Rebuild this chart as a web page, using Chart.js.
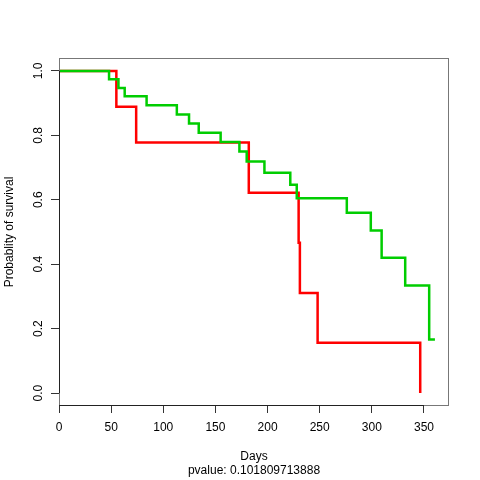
<!DOCTYPE html>
<html>
<head>
<meta charset="utf-8">
<script src="https://cdn.jsdelivr.net/npm/chart.js@4.4.1/dist/chart.umd.min.js"></script>
<style>
  html, body { margin: 0; padding: 0; background: #fff; }
  #wrap { width: 480px; height: 480px; }
</style>
</head>
<body>
<div id="wrap"><canvas id="km" width="480" height="480"></canvas></div>
<script>
// survival curves (days, probability)
const redDays = [0, 55, 74, 182, 229.8, 231, 248, 346.4];
const redSurv = [1, 0.889, 0.778, 0.622, 0.467, 0.311, 0.156, 0];
const greenDays = [0, 48, 57, 63, 84, 113, 124.7, 134, 155, 173, 180, 197, 221.8, 228, 276, 299, 309.4, 332, 355, 360.5];
const greenSurv = [1, 0.974, 0.947, 0.921, 0.893, 0.865, 0.837, 0.808, 0.779, 0.750, 0.719, 0.684, 0.647, 0.605, 0.560, 0.505, 0.420, 0.334, 0.166, 0.166];
const xTicks = [0, 50, 100, 150, 200, 250, 300, 350];
const yTicks = [0, 0.2, 0.4, 0.6, 0.8, 1.0];
const xTitle = 'Days';
const yTitle = 'Probablity of survival';
const subTitle = 'pvalue: 0.101809713888';

const FONT = '12px "Liberation Sans", Arial, sans-serif';

function toPoints(xs, ys) {
    return xs.map((x, i) => ({ x: x, y: ys[i] }));
}

// box, axis lines, rotated y labels and the bottom texts, R style
const rStyle = {
    id: 'rStyle',
    afterDraw(chart) {
        const ctx = chart.ctx;
        const a = chart.chartArea;
        const xs = chart.scales.x;
        const ys = chart.scales.y;
        ctx.save();
        ctx.strokeStyle = '#777';
        ctx.lineWidth = 1;
        ctx.strokeRect(a.left + 0.5, a.top + 0.5, a.right - a.left - 1, a.bottom - a.top - 1);

        // axis lines between first and last tick
        ctx.strokeStyle = '#222';
        ctx.beginPath();
        ctx.moveTo(a.left + 0.5, ys.getPixelForValue(yTicks[0]));
        ctx.lineTo(a.left + 0.5, ys.getPixelForValue(yTicks[yTicks.length - 1]));
        ctx.moveTo(xs.getPixelForValue(xTicks[0]), a.bottom - 0.5);
        ctx.lineTo(xs.getPixelForValue(xTicks[xTicks.length - 1]), a.bottom - 0.5);
        ctx.stroke();

        ctx.fillStyle = '#000';
        ctx.font = FONT;
        ctx.textAlign = 'center';
        ctx.textBaseline = 'middle';
        yTicks.forEach(v => {
            ctx.save();
            ctx.translate(38.5, ys.getPixelForValue(v));
            ctx.rotate(-Math.PI / 2);
            ctx.fillText(v.toFixed(1), 0, 0);
            ctx.restore();
        });
        ctx.save();
        ctx.translate(10, (a.top + a.bottom) / 2);
        ctx.rotate(-Math.PI / 2);
        ctx.fillText(yTitle, 0, 0);
        ctx.restore();

        const cx = (a.left + a.right) / 2;
        ctx.fillText(xTitle, cx, 457);
        ctx.fillText(subTitle, cx, 471);
        ctx.restore();
    }
};

new Chart(document.getElementById('km').getContext('2d'), {
    type: 'line',
    data: {
        datasets: [
            {
                label: 'group 2',
                data: toPoints(greenDays, greenSurv),
                borderColor: '#00CD00',
                borderWidth: 2.5,
                stepped: 'before',
                pointRadius: 0,
                fill: false
            },
            {
                label: 'group 1',
                data: toPoints(redDays, redSurv),
                borderColor: '#FF0000',
                borderWidth: 2.5,
                stepped: 'before',
                pointRadius: 0,
                fill: false
            }
        ]
    },
    options: {
        responsive: false,
        animation: false,
        layout: { padding: { top: 58, right: 31, left: 0, bottom: 0 } },
        plugins: {
            legend: { display: false },
            tooltip: { enabled: false }
        },
        scales: {
            x: {
                type: 'linear',
                min: 0,
                max: 374,
                afterBuildTicks: s => { s.ticks = xTicks.map(v => ({ value: v })); },
                afterFit: s => { s.height = 74; },
                border: { display: false },
                grid: { drawOnChartArea: false, tickLength: 7, color: '#333', tickColor: '#333' },
                ticks: { font: { family: '"Liberation Sans", Arial, sans-serif', size: 12 }, color: '#000', padding: 7, maxRotation: 0, autoSkip: false }
            },
            y: {
                type: 'linear',
                min: -0.04,
                max: 1.04,
                afterBuildTicks: s => { s.ticks = yTicks.map(v => ({ value: v })); },
                afterFit: s => { s.width = 59; },
                border: { display: false },
                grid: { drawOnChartArea: false, tickLength: 8, color: '#333', tickColor: '#333' },
                ticks: { display: false }
            }
        }
    },
    plugins: [rStyle]
});
</script>
</body>
</html>
